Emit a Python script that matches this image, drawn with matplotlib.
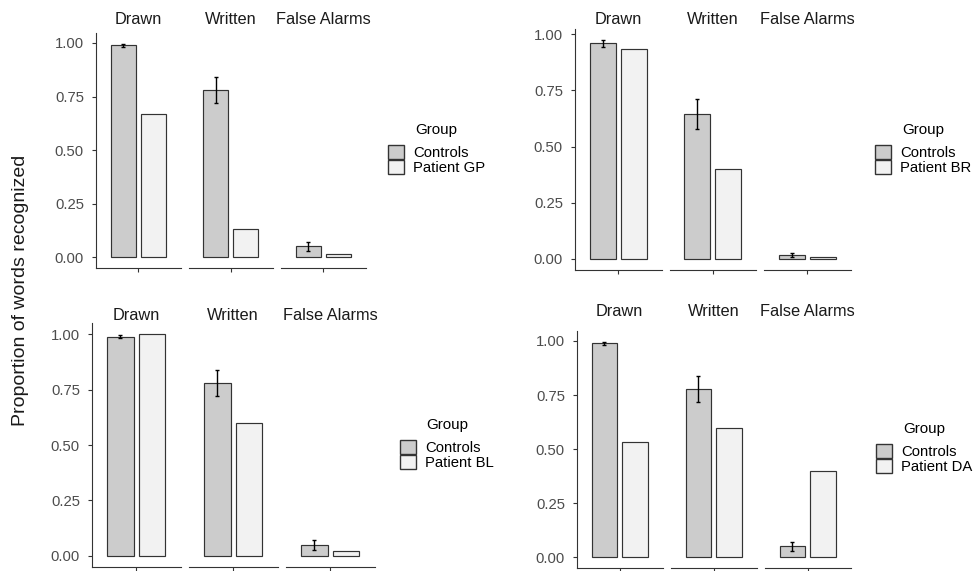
import matplotlib
matplotlib.use("Agg")
import matplotlib.pyplot as plt
from matplotlib.patches import Patch
import numpy as np

plt.rcParams['font.family'] = ['Liberation Sans', 'DejaVu Sans']

# data
conditions  = ["Drawn", "Written", "False Alarms"]
patients    = ["GP", "BR", "BL", "DA"]

ctrl_gp     = [0.99, 0.78, 0.05]
ctrl_gp_err = [0.007, 0.06, 0.022]
pat_gp      = [0.667, 0.133, 0.012]

ctrl_br     = [0.96, 0.645, 0.018]
ctrl_br_err = [0.015, 0.067, 0.008]
pat_br      = [0.933, 0.40, 0.009]

ctrl_bl     = [0.99, 0.78, 0.05]
ctrl_bl_err = [0.007, 0.06, 0.022]
pat_bl      = [1.0, 0.60, 0.02]

ctrl_da     = [0.99, 0.78, 0.05]
ctrl_da_err = [0.007, 0.06, 0.022]
pat_da      = [0.533, 0.60, 0.40]

y_ticks     = [0.0, 0.25, 0.5, 0.75, 1.0]
y_ticklabs  = ["0.00", "0.25", "0.50", "0.75", "1.00"]

# styles / layout (pixels)
W, H        = 974, 571
CTRL_COL    = "#cccccc"
PAT_COL     = "#f2f2f2"
EDGE        = "#333333"
AXCOL       = "#333333"
TICKCOL     = "#4d4d4d"
BAR_W       = 0.357
OFFSET      = 0.215

# left, facet width, gap, y of 0, y of 1, strip y, legend x, legend top
layout = [
    (96,  84.5, 8.0, 257.0, 43.0,  20,  388, 123),
    (575, 86.5, 8.0, 259.0, 34.3,  20,  875, 123),
    (92,  88.5, 8.5, 555.7, 334.3, 316, 400, 418),
    (577, 85.5, 8.5, 557.3, 341.0, 312, 876, 422),
]

panels = [
    (ctrl_gp, ctrl_gp_err, pat_gp),
    (ctrl_br, ctrl_br_err, pat_br),
    (ctrl_bl, ctrl_bl_err, pat_bl),
    (ctrl_da, ctrl_da_err, pat_da),
]

fig = plt.figure(figsize=(W/100, H/100), dpi=100)

def fx(x):
    return x / W

def fy(y):
    return 1 - y / H

for p, ((ctrl, err, pat), lay) in enumerate(zip(panels, layout)):
    left, fw, gap, y0, y1, strip_y, leg_x, leg_top = lay
    ymax  = max(max(np.array(ctrl) + np.array(err)), max(pat))
    pad   = 0.05 * ymax
    scale = y0 - y1
    bot_px = y0 + pad * scale
    top_px = y0 - (ymax + pad) * scale
    for j, cond in enumerate(conditions):
        l = left + j * (fw + gap)
        ax = fig.add_axes([fx(l), fy(bot_px), fw / W, (bot_px - top_px) / H])
        ax.bar([-OFFSET], [ctrl[j]], width=BAR_W, color=CTRL_COL,
               edgecolor=EDGE, linewidth=0.85, zorder=2)
        ax.bar([OFFSET], [pat[j]], width=BAR_W, color=PAT_COL,
               edgecolor=EDGE, linewidth=0.85, zorder=2)
        ax.errorbar([-OFFSET], [ctrl[j]], yerr=[err[j]], fmt='none',
                    ecolor='black', elinewidth=1.0, capsize=1.5,
                    capthick=1.0, zorder=3)
        ax.set_xlim(-0.6, 0.6)
        ax.set_ylim(-pad, ymax + pad)
        ax.set_facecolor('none')
        for s in ['top', 'right']:
            ax.spines[s].set_visible(False)
        ax.spines['bottom'].set_color(AXCOL)
        ax.spines['bottom'].set_linewidth(0.8)
        ax.set_xticks([0])
        ax.set_xticklabels([])
        ax.tick_params(axis='x', length=3.2, width=0.8, color=AXCOL)
        if j == 0:
            ax.spines['left'].set_color(AXCOL)
            ax.spines['left'].set_linewidth(0.8)
            ax.set_yticks(y_ticks)
            ax.set_yticklabels(y_ticklabs)
            ax.tick_params(axis='y', length=3.2, width=0.8, color=AXCOL,
                           labelcolor=TICKCOL, labelsize=10.7, pad=5.5)
        else:
            ax.spines['left'].set_visible(False)
            ax.set_yticks([])
        fig.text(fx(l + fw / 2), fy(strip_y), cond, ha='center', va='center',
                 fontsize=11.8, color='#1a1a1a')

    handles = [Patch(facecolor=CTRL_COL, edgecolor=EDGE, linewidth=1.0),
               Patch(facecolor=PAT_COL, edgecolor=EDGE, linewidth=1.0)]
    leg = fig.legend(handles, ["Controls", "Patient " + patients[p]], title="Group",
                     loc='upper left', bbox_to_anchor=(fx(leg_x), fy(leg_top)),
                     frameon=False, borderpad=0, borderaxespad=0, labelspacing=0,
                     handlelength=1.1, handleheight=1.1, handletextpad=0.6,
                     fontsize=10.7, title_fontsize=10.9)
    leg._legend_box.sep = 5.5

fig.text(fx(21), fy(290), "Proportion of words recognized", rotation=90,
         ha='center', va='center', fontsize=14, color='#1a1a1a')

fig.savefig("out.png", dpi=100)
